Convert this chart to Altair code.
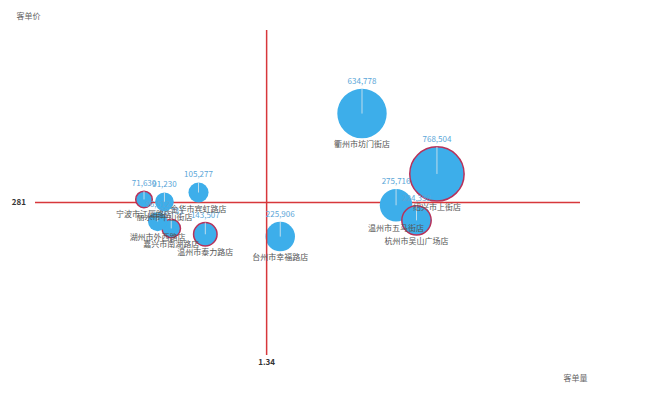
import math
import altair as alt
import pandas as pd

# ---- data ----
stores = ["宁波市江厦路店", "丽水市中山街店", "嘉兴市南湖路店", "湖州市外西路店",
          "金华市宾虹路店", "温州市泰力路店", "台州市幸福路店", "衢州市坊门街店",
          "绍兴市上街店", "温州市五马街店", "杭州市吴山广场店"]
qty = [1.16, 1.19, 1.20, 1.18, 1.24, 1.25, 1.36, 1.48, 1.59, 1.53, 1.56]      # 客单量
price = [284, 282, 259, 265, 290, 254, 252, 358, 306, 279, 266]                 # 客单价
sales = [71630, 91230, 88731, 96512, 105277, 143507, 225906, 634778, 768504, 275716, 224358]
flagged = [True, False, True, False, False, True, False, False, True, False, True]

# ---- layout / style ----
W, H = 545, 325
X_DOM = [1.0, 1.8]
Y_DOM = [150, 430]
PX_PER_Y = H / (Y_DOM[1] - Y_DOM[0])
FONT = "Noto Sans CJK SC"
BLUE = "#3daeea"
RED = "#d7373b"

df = pd.DataFrame({"store": stores, "qty": qty, "price": price,
                   "sales": sales, "flag": flagged})

xs = alt.Scale(domain=X_DOM, nice=False, zero=False)
ys = alt.Scale(domain=Y_DOM, nice=False, zero=False)

base = alt.Chart(df).transform_calculate(
    r="0.031*sqrt(datum.sales)",
).transform_calculate(
    area="4*datum.r*datum.r",
    ytop=f"datum.price + datum.r/{PX_PER_Y}",
    ybot=f"datum.price - datum.r/{PX_PER_Y}",
)

x_enc = alt.X("qty:Q", scale=xs, axis=alt.Axis(
    title="客单量", domain=False, ticks=False, labels=False, grid=False,
    titleX=540, titleY=23, titleAlign="center", titleBaseline="middle",
    titleFontSize=8, titleColor="#666", titleFontWeight="normal", titleFont=FONT))
y_enc = alt.Y("price:Q", scale=ys, axis=alt.Axis(
    title="客单价", titleAngle=0, domain=False, ticks=False, labels=False, grid=False,
    titleX=-7, titleY=-14, titleAlign="center", titleBaseline="middle",
    titleFontSize=8, titleColor="#666", titleFontWeight="normal", titleFont=FONT))

hrule = alt.Chart(df).mark_rule(color=RED, strokeWidth=1.5).encode(
    y=alt.Y("mean(price):Q", scale=ys))
vrule = alt.Chart(df).mark_rule(color=RED, strokeWidth=1.5).encode(
    x=alt.X("mean(qty):Q", scale=xs))
hlabel = alt.Chart(df).mark_text(font=FONT, fontSize=8, fontWeight="bold",
                                 color="#333", align="right", baseline="middle").encode(
    x=alt.value(-9), y=alt.Y("mean(price):Q", scale=ys),
    text=alt.Text("mean(price):Q", format=".0f"))
vlabel = alt.Chart(df).mark_text(font=FONT, fontSize=8, fontWeight="bold",
                                 color="#333", align="center", baseline="middle").encode(
    x=alt.X("mean(qty):Q", scale=xs), y=alt.value(H + 8),
    text=alt.Text("mean(qty):Q", format=".2f"))

bubbles = base.mark_circle(opacity=1, fill=BLUE).encode(
    x=x_enc, y=y_enc,
    size=alt.Size("area:Q", scale=None, legend=None),
    stroke=alt.condition("datum.flag", alt.value("#b8315a"), alt.value("transparent")),
    strokeWidth=alt.condition("datum.flag", alt.value(1.5), alt.value(0)),
)
inner = base.mark_rule(color="#dfe8ee", strokeWidth=0.8).encode(
    x=alt.X("qty:Q", scale=xs), y=alt.Y("price:Q", scale=ys), y2="ytop:Q")

val_text = base.mark_text(font=FONT, fontSize=8, color="#5aa6d8",
                          baseline="bottom", dy=-3).encode(
    x=alt.X("qty:Q", scale=xs), y=alt.Y("ytop:Q", scale=ys),
    text=alt.Text("sales:Q", format=",.0f"))
name_text = base.mark_text(font=FONT, fontSize=8, color="#555",
                           baseline="top", dy=3).encode(
    x=alt.X("qty:Q", scale=xs), y=alt.Y("ybot:Q", scale=ys),
    text="store:N")

chart = alt.layer(hrule, bubbles, inner, vrule, val_text, name_text, hlabel, vlabel).properties(
    width=W, height=H,
    background="white",
    autosize=alt.AutoSizeParams(type="none"),
    padding={"left": 27, "top": 22, "right": 72, "bottom": 32},
).configure_view(strokeWidth=0, stroke="transparent")

chart.save("out.html", embed_options={"renderer": "svg", "actions": False})
